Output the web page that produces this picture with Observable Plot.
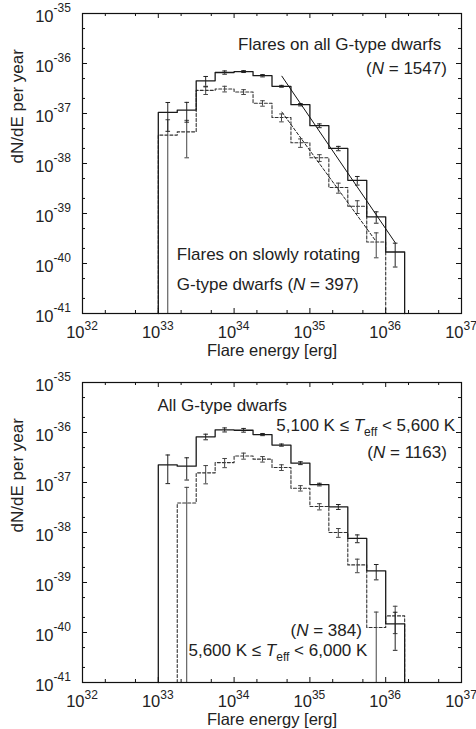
<!DOCTYPE html>
<html>
<head>
<meta charset="utf-8">
<script src="https://cdn.jsdelivr.net/npm/d3@7"></script>
<script src="https://cdn.jsdelivr.net/npm/@observablehq/plot@0.6"></script>
<style>
  body { margin: 0; background: #fff; }
  #chart { width: 476px; height: 729px; }
  #chart svg { display: block; }
</style>
</head>
<body>
<div id="chart"></div>
<script>
// ---------- DATA ----------
// log10 of the bin edges of flare energy [erg]
const binEdgesLog = [33.0, 33.25, 33.5, 33.75, 34.0, 34.25, 34.5, 34.75, 35.0, 35.25, 35.5, 35.75, 36.0, 36.25];

// Upper panel: flares on all G-type dwarfs (solid) and slowly rotating ones (dashed)
const topAllValues = [1.05e-37, 1.17e-37, 4.5e-37, 6.6e-37, 6.9e-37, 5.7e-37, 3.5e-37, 1.5e-37, 5.7e-38, 2.0e-38, 4.6e-39, 8.6e-40, 1.7e-40];
const topAllErrors = [6.1e-38, 5.0e-38, 1.0e-37, 5.0e-38, 3.0e-38, 3.0e-38, 1.5e-38, 8.0e-39, 5.0e-39, 2.0e-39, 9.0e-40, 2.2e-40, 8.5e-41];
const topSlowValues = [3.7e-38, 4.3e-38, 2.9e-37, 3.1e-37, 2.7e-37, 1.6e-37, 8.3e-38, 2.6e-38, 1.3e-38, 3.3e-39, 1.4e-39, 2.7e-40];
const topSlowErrors = [3.8e-38, 3.0e-38, 5.0e-38, 4.0e-38, 3.0e-38, 2.0e-38, 1.5e-38, 5.0e-39, 2.0e-39, 7.5e-40, 4.0e-40, 1.4e-40];
// power-law fits (end points)
const fitAllE = [4.27e34, 1.33e36];
const fitAllY = [5.57e-37, 2.63e-40];
const fitSlowE = [4.27e34, 7.24e35];
const fitSlowY = [1.07e-37, 2.95e-40];

// Lower panel: 5,100-5,600 K (solid) and 5,600-6,000 K (dashed)
const botCoolValues = [2.25e-37, 2.12e-37, 8.2e-37, 1.13e-36, 1.11e-36, 9.1e-37, 5.6e-37, 2.44e-37, 9.1e-38, 3.26e-38, 7.6e-39, 1.71e-39, 1.49e-40];
const botCoolErrors = [1.3e-37, 1.0e-37, 1.05e-37, 1.05e-37, 9.5e-38, 4.5e-38, 2.8e-38, 1.6e-38, 5.5e-39, 3.7e-39, 1.35e-39, 5.8e-40, 1.05e-40];
const botHotValues = [null, 3.9e-38, 1.56e-37, 2.5e-37, 3.4e-37, 2.93e-37, 2.0e-37, 7.7e-38, 3.3e-38, 1.0e-38, 2.25e-39, 1.26e-40, 2.15e-40];
const botHotErrors = [null, 4.1e-38, 6.2e-38, 5.2e-38, 4.7e-38, 3.7e-38, 2.6e-38, 9.5e-39, 4.7e-39, 2.0e-39, 6.8e-40, 1.3e-40, 1.2e-40];

// axes
const xTickExps = [32, 33, 34, 35, 36, 37];
const yTickExps = [-35, -36, -37, -38, -39, -40, -41];
const minorMultipliers = [2, 5];
const xLabel = "Flare energy [erg]";
const yLabel = "dN/dE per year";

const topNotes = ["Flares on all G-type dwarfs", "(N = 1547)", "Flares on slowly rotating", "G-type dwarfs (N = 397)"];
const botNotes = ["All G-type dwarfs", "5,100 K ≤ T_eff < 5,600 K", "(N = 1163)", "(N = 384)", "5,600 K ≤ T_eff < 6,000 K"];

// ---------- helpers ----------
const FONT = "'Liberation Sans', Arial, Helvetica, sans-serif";
const yMin = 1e-41, yMax = 1e-35, xMin = 1e32, xMax = 1e37;
const W = 476, ML = 82, MR = 15, FW = W - ML - MR, FH = 300;

function stepPoints(values) {
  const idx = values.map((v, i) => (v == null ? -1 : i)).filter(i => i >= 0);
  const first = idx[0], last = idx[idx.length - 1];
  const pts = [{x: 10 ** binEdgesLog[first], y: yMin}];
  for (let i = first; i <= last; i++) pts.push({x: 10 ** binEdgesLog[i], y: values[i]});
  pts.push({x: 10 ** binEdgesLog[last + 1], y: values[last]});
  pts.push({x: 10 ** binEdgesLog[last + 1], y: yMin});
  return pts;
}
function errPoints(values, errors) {
  const out = [];
  values.forEach((v, i) => {
    if (v == null) return;
    const c = 10 ** ((binEdgesLog[i] + binEdgesLog[i + 1]) / 2);
    const lo = v - errors[i];
    out.push({x: c, v, lo: lo > 0 ? lo : null, hi: v + errors[i]});
  });
  return out;
}
function capPoints(errs) {
  const out = [];
  errs.forEach(d => {
    out.push({x: d.x, y: d.hi});
    if (d.lo != null) out.push({x: d.x, y: d.lo});
  });
  return out;
}
const capSymbol = {
  draw(ctx, size) {
    const w = Math.sqrt(size / Math.PI);
    ctx.moveTo(-w, 0);
    ctx.lineTo(w, 0);
  }
};
function tickValues(exps) {
  const major = exps.map(e => 10 ** e);
  const lo = Math.min(...exps), hi = Math.max(...exps);
  const minor = [];
  for (let e = lo; e < hi; e++) minorMultipliers.forEach(m => minor.push(m * 10 ** e));
  return {major, minor};
}
const xt = tickValues(xTickExps);
const yt = tickValues(yTickExps);

function frameMarks() {
  const marks = [];
  // inward ticks on four sides
  marks.push(Plot.tickX(xt.major, {x: d => d, insetTop: FH - 5, stroke: "#111"}));
  marks.push(Plot.tickX(xt.major, {x: d => d, insetBottom: FH - 5, stroke: "#111"}));
  marks.push(Plot.tickX(xt.minor, {x: d => d, insetTop: FH - 3, stroke: "#111"}));
  marks.push(Plot.tickX(xt.minor, {x: d => d, insetBottom: FH - 3, stroke: "#111"}));
  marks.push(Plot.tickY(yt.major, {y: d => d, insetRight: FW - 5, stroke: "#111"}));
  marks.push(Plot.tickY(yt.major, {y: d => d, insetLeft: FW - 5, stroke: "#111"}));
  marks.push(Plot.tickY(yt.minor, {y: d => d, insetRight: FW - 3, stroke: "#111"}));
  marks.push(Plot.tickY(yt.minor, {y: d => d, insetLeft: FW - 3, stroke: "#111"}));
  // tick labels 10^n
  marks.push(Plot.text(xTickExps, {x: d => 10 ** d, frameAnchor: "bottom", text: () => "10", textAnchor: "end", lineAnchor: "bottom", dx: 2, dy: 24, fontSize: 16.5, fill: "#222"}));
  marks.push(Plot.text(xTickExps, {x: d => 10 ** d, frameAnchor: "bottom", text: d => String(d), textAnchor: "start", lineAnchor: "bottom", dx: 2, dy: 16.5, fontSize: 12, fill: "#222"}));
  marks.push(Plot.text(yTickExps, {y: d => 10 ** d, frameAnchor: "left", text: () => "10", textAnchor: "end", lineAnchor: "bottom", dx: -29, dy: 8.5, fontSize: 16.5, fill: "#222"}));
  marks.push(Plot.text(yTickExps, {y: d => 10 ** d, frameAnchor: "left", text: d => String(d), textAnchor: "start", lineAnchor: "bottom", dx: -29, dy: -1.5, fontSize: 12, fill: "#222"}));
  // axis titles
  marks.push(Plot.text([xLabel], {frameAnchor: "bottom", text: d => d, lineAnchor: "bottom", dy: 42.5, fontSize: 16.5, fill: "#222"}));
  marks.push(Plot.text([yLabel], {frameAnchor: "left", text: d => d, rotate: -90, dx: -64.5, fontSize: 17, fill: "#222"}));
  marks.push(Plot.frame({stroke: "#111", strokeWidth: 1.2}));
  return marks;
}

function seriesMarks(values, errors, dashed) {
  const errs = errPoints(values, errors);
  const stroke = dashed ? "#333" : "#1a1a1a";
  return [
    Plot.line(stepPoints(values), {x: "x", y: "y", curve: "step-after", stroke, strokeWidth: dashed ? 1.1 : 1.3, strokeDasharray: dashed ? "3,2" : null}),
    Plot.ruleX(errs, {x: "x", y1: d => (d.lo == null ? yMin : d.lo), y2: "hi", stroke: dashed ? "#444" : "#222", strokeWidth: 1}),
    Plot.dot(capPoints(errs), {x: "x", y: "y", symbol: capSymbol, r: 2.3, fill: "none", stroke: dashed ? "#444" : "#222", strokeWidth: 1})
  ];
}

function basePlot(height, marginTop, marks) {
  return Plot.plot({
    width: W, height, marginLeft: ML, marginRight: MR, marginTop, marginBottom: height - marginTop - FH,
    style: {fontFamily: FONT, background: "white", overflow: "visible"},
    x: {type: "log", domain: [xMin, xMax], axis: null},
    y: {type: "log", domain: [yMin, yMax], axis: null},
    marks
  });
}

const noteStyle = {fontSize: 17, fill: "#222", lineAnchor: "bottom"};

// ---------- upper panel ----------
const fitAll = fitAllE.map((e, i) => ({x: e, y: fitAllY[i]}));
const fitSlow = fitSlowE.map((e, i) => ({x: e, y: fitSlowY[i]}));
const topPanel = basePlot(360, 13, [
  ...seriesMarks(topSlowValues, topSlowErrors, true),
  ...seriesMarks(topAllValues, topAllErrors, false),
  Plot.line(fitAll, {x: "x", y: "y", stroke: "#111", strokeWidth: 1}),
  Plot.line(fitSlow, {x: "x", y: "y", stroke: "#222", strokeWidth: 1, strokeDasharray: "3,2"}),
  Plot.text([topNotes[0]], {...noteStyle, x: 10 ** 36.732, y: 10 ** -35.72, text: d => d, textAnchor: "end"}),
  Plot.text([topNotes[1]], {...noteStyle, x: 10 ** 36.807, y: 10 ** -36.214, text: d => d, textAnchor: "end"}),
  Plot.text([topNotes[2]], {...noteStyle, x: 10 ** 33.245, y: 10 ** -39.92, text: d => d, textAnchor: "start"}),
  Plot.text([topNotes[3]], {...noteStyle, x: 10 ** 33.245, y: 10 ** -40.534, text: d => d, textAnchor: "start"}),
  ...frameMarks()
]);

// ---------- lower panel ----------
const bottomPanel = basePlot(369, 22, [
  ...seriesMarks(botHotValues, botHotErrors, true),
  ...seriesMarks(botCoolValues, botCoolErrors, false),
  Plot.text([botNotes[0]], {...noteStyle, x: 10 ** 32.989, y: 10 ** -35.566, text: d => d, textAnchor: "start"}),
  Plot.text([botNotes[1]], {...noteStyle, x: 10 ** 36.917, y: 10 ** -35.966, text: d => d, textAnchor: "end"}),
  Plot.text([botNotes[2]], {...noteStyle, x: 10 ** 36.807, y: 10 ** -36.5, text: d => d, textAnchor: "end"}),
  Plot.text([botNotes[3]], {...noteStyle, x: 10 ** 35.686, y: 10 ** -40.066, text: d => d, textAnchor: "end"}),
  Plot.text([botNotes[4]], {...noteStyle, x: 10 ** 33.398, y: 10 ** -40.466, text: d => d, textAnchor: "start"}),
  ...frameMarks()
]);

// italic N, italic T with subscript "eff"
function richify(svg) {
  const NS = "http://www.w3.org/2000/svg";
  svg.querySelectorAll("text").forEach(t => {
    const s = t.textContent;
    if (!(s.includes("N =") || s.includes("T_eff"))) return;
    const parts = s.split(/(N(?= =)|T_eff)/);
    t.textContent = "";
    let reset = false;
    const add = (txt, attrs) => {
      const ts = document.createElementNS(NS, "tspan");
      ts.textContent = txt;
      for (const k in attrs) ts.setAttribute(k, attrs[k]);
      t.appendChild(ts);
    };
    parts.forEach(p => {
      if (p === "") return;
      if (p === "N") {
        add("N", {"font-style": "italic"});
      } else if (p === "T_eff") {
        add("T", {"font-style": "italic"});
        add("eff", {"font-size": "12", "dy": "5"});
        reset = true;
      } else {
        const attrs = reset ? {"dy": "-5"} : {};
        reset = false;
        add(p, attrs);
      }
    });
  });
}
richify(topPanel);
richify(bottomPanel);

const chart = document.getElementById("chart");
chart.appendChild(topPanel);
chart.appendChild(bottomPanel);
</script>
</body>
</html>
